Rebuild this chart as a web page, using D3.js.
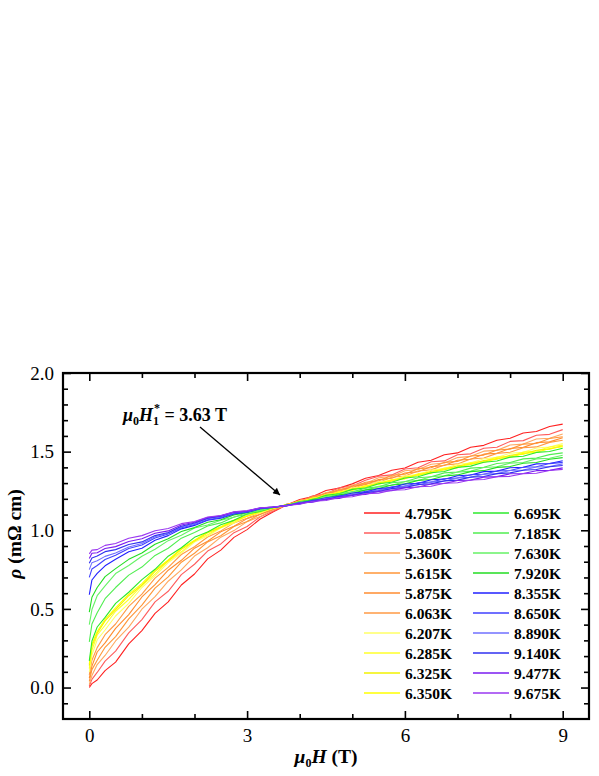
<!DOCTYPE html>
<html><head><meta charset="utf-8">
<script src="https://cdn.jsdelivr.net/npm/d3@7"></script>
<style>
html,body{margin:0;padding:0;background:#fff;}
svg{display:block;font-family:"Liberation Serif","Times New Roman",serif;}
</style></head>
<body>
<svg id="chart" width="599" height="776"></svg>
<script>
// ---------- DATA ----------
const fieldH = [0,0.05,0.15,0.3,0.5,0.75,1,1.25,1.5,1.75,2,2.25,2.5,2.75,3,3.25,3.5,3.75,4,4.25,4.5,4.75,5,5.25,5.5,5.75,6,6.25,6.5,6.75,7,7.25,7.5,7.75,8,8.25,8.5,8.75,9];

const temperatures = ["4.795K","5.085K","5.360K","5.615K","5.875K","6.063K","6.207K","6.285K","6.325K","6.350K",
                      "6.695K","7.185K","7.630K","7.920K","8.355K","8.650K","8.890K","9.140K","9.477K","9.675K"];
const seriesColors = ["#ff2020","#ff5c5c","#ffa860","#ff9638","#ff8c30","#ff9a44","#ffff66","#ffff2a","#f2f200","#ffff00",
                      "#2cea2c","#50ee50","#66f266","#22dd22","#2020ff","#4040ff","#7070ff","#3030f0","#7a1cf0","#9a38f0"];

const rho_4795 = [0.000,0.025,0.048,0.108,0.162,0.278,0.362,0.472,0.545,0.652,0.722,0.818,0.874,0.955,1.004,1.072,1.118,1.160,1.196,1.214,1.253,1.268,1.295,1.331,1.348,1.382,1.396,1.432,1.445,1.480,1.492,1.528,1.540,1.572,1.585,1.618,1.628,1.660,1.675];
const rho_5085 = [0.010,0.052,0.096,0.168,0.232,0.348,0.432,0.545,0.612,0.718,0.784,0.868,0.913,0.985,1.024,1.086,1.122,1.166,1.183,1.220,1.232,1.270,1.281,1.318,1.344,1.352,1.390,1.398,1.436,1.441,1.480,1.486,1.522,1.528,1.565,1.570,1.604,1.610,1.640];
const rho_5360 = [0.020,0.076,0.146,0.204,0.296,0.384,0.498,0.578,0.676,0.748,0.836,0.889,0.956,0.998,1.055,1.088,1.132,1.158,1.190,1.204,1.240,1.252,1.288,1.298,1.334,1.342,1.378,1.386,1.420,1.428,1.462,1.470,1.503,1.508,1.542,1.548,1.580,1.585,1.612];
const rho_5615 = [0.040,0.114,0.174,0.256,0.324,0.437,0.524,0.632,0.704,0.797,0.854,0.926,0.965,1.024,1.056,1.103,1.130,1.165,1.180,1.214,1.226,1.260,1.270,1.305,1.314,1.350,1.356,1.392,1.398,1.432,1.438,1.472,1.478,1.510,1.516,1.548,1.552,1.584,1.595];
const rho_5875 = [0.060,0.136,0.226,0.284,0.376,0.464,0.576,0.654,0.746,0.809,0.886,0.930,0.990,1.026,1.074,1.101,1.138,1.158,1.189,1.202,1.235,1.246,1.280,1.290,1.322,1.331,1.364,1.372,1.405,1.412,1.445,1.452,1.484,1.490,1.520,1.527,1.557,1.562,1.588];
const rho_6063 = [0.080,0.174,0.254,0.336,0.404,0.516,0.594,0.696,0.764,0.846,0.895,0.957,0.996,1.047,1.076,1.114,1.135,1.164,1.178,1.210,1.221,1.254,1.263,1.296,1.304,1.337,1.345,1.377,1.384,1.415,1.422,1.453,1.460,1.489,1.496,1.525,1.530,1.559,1.572];
const rho_6207 = [0.100,0.206,0.304,0.366,0.455,0.535,0.636,0.710,0.795,0.855,0.925,0.963,1.015,1.046,1.089,1.110,1.141,1.157,1.186,1.198,1.228,1.239,1.269,1.279,1.308,1.317,1.347,1.355,1.383,1.392,1.420,1.428,1.455,1.463,1.490,1.496,1.523,1.529,1.552];
const rho_6285 = [0.120,0.236,0.334,0.396,0.485,0.560,0.650,0.721,0.805,0.863,0.934,0.971,1.019,1.051,1.094,1.114,1.142,1.163,1.177,1.205,1.217,1.246,1.256,1.285,1.294,1.323,1.331,1.360,1.368,1.396,1.404,1.431,1.438,1.465,1.471,1.497,1.504,1.529,1.542];
const rho_6325 = [0.140,0.264,0.346,0.424,0.496,0.584,0.651,0.739,0.806,0.879,0.931,0.984,1.017,1.061,1.089,1.121,1.140,1.158,1.184,1.197,1.225,1.236,1.264,1.274,1.302,1.312,1.339,1.348,1.375,1.384,1.410,1.418,1.444,1.452,1.477,1.484,1.509,1.516,1.537];
const rho_6350 = [0.150,0.274,0.356,0.434,0.506,0.594,0.661,0.746,0.811,0.884,0.936,0.989,1.022,1.065,1.092,1.123,1.141,1.162,1.176,1.204,1.215,1.243,1.253,1.282,1.291,1.319,1.327,1.355,1.362,1.390,1.397,1.424,1.431,1.457,1.463,1.489,1.495,1.520,1.532];
const rho_6695 = [0.170,0.296,0.385,0.446,0.535,0.606,0.686,0.752,0.835,0.889,0.955,0.989,1.035,1.063,1.104,1.120,1.145,1.157,1.183,1.194,1.222,1.232,1.260,1.269,1.296,1.305,1.332,1.340,1.366,1.374,1.400,1.408,1.433,1.440,1.465,1.471,1.495,1.501,1.522];
const rho_7185 = [0.290,0.404,0.476,0.565,0.636,0.715,0.766,0.840,0.886,0.950,0.986,1.027,1.047,1.084,1.102,1.129,1.143,1.161,1.174,1.199,1.208,1.234,1.243,1.268,1.276,1.302,1.309,1.334,1.340,1.365,1.371,1.395,1.401,1.425,1.431,1.454,1.459,1.481,1.492];
const rho_7630 = [0.400,0.496,0.584,0.646,0.725,0.776,0.835,0.879,0.934,0.968,1.014,1.033,1.064,1.083,1.113,1.125,1.147,1.156,1.180,1.189,1.214,1.222,1.247,1.254,1.279,1.286,1.310,1.317,1.341,1.347,1.370,1.376,1.399,1.404,1.427,1.431,1.454,1.458,1.477];
const rho_7920 = [0.480,0.574,0.636,0.705,0.756,0.815,0.856,0.911,0.946,0.992,1.017,1.051,1.067,1.098,1.112,1.135,1.145,1.160,1.171,1.195,1.203,1.226,1.234,1.257,1.265,1.288,1.295,1.317,1.323,1.345,1.352,1.373,1.379,1.400,1.405,1.426,1.431,1.452,1.462];
const rho_8355 = [0.590,0.684,0.726,0.774,0.816,0.864,0.886,0.936,0.966,1.009,1.031,1.064,1.077,1.104,1.115,1.137,1.146,1.156,1.177,1.184,1.207,1.214,1.237,1.243,1.266,1.271,1.294,1.298,1.321,1.325,1.347,1.351,1.373,1.376,1.398,1.401,1.422,1.425,1.442];
const rho_8650 = [0.700,0.754,0.776,0.814,0.841,0.884,0.906,0.951,0.976,1.016,1.037,1.067,1.082,1.107,1.117,1.138,1.146,1.159,1.169,1.191,1.198,1.219,1.226,1.248,1.253,1.276,1.280,1.302,1.306,1.328,1.332,1.353,1.356,1.377,1.380,1.401,1.404,1.424,1.432];
const rho_8890 = [0.750,0.794,0.806,0.834,0.856,0.894,0.916,0.959,0.981,1.021,1.041,1.074,1.087,1.112,1.119,1.140,1.147,1.155,1.175,1.181,1.203,1.209,1.231,1.236,1.257,1.262,1.283,1.288,1.308,1.313,1.333,1.337,1.357,1.360,1.380,1.383,1.402,1.405,1.422];
const rho_9140 = [0.790,0.824,0.836,0.864,0.877,0.909,0.926,0.966,0.986,1.026,1.046,1.077,1.090,1.114,1.121,1.141,1.147,1.159,1.168,1.188,1.194,1.215,1.221,1.241,1.246,1.266,1.271,1.291,1.295,1.314,1.319,1.338,1.342,1.360,1.365,1.382,1.386,1.404,1.412];
const rho_9477 = [0.820,0.854,0.857,0.884,0.896,0.929,0.946,0.981,0.996,1.034,1.051,1.081,1.092,1.116,1.123,1.142,1.148,1.154,1.173,1.178,1.199,1.203,1.224,1.228,1.248,1.252,1.271,1.275,1.294,1.297,1.316,1.319,1.338,1.341,1.359,1.361,1.379,1.381,1.397];
const rho_9675 = [0.850,0.874,0.877,0.904,0.916,0.949,0.966,0.997,1.011,1.042,1.056,1.084,1.094,1.117,1.125,1.143,1.148,1.158,1.165,1.185,1.189,1.209,1.213,1.232,1.236,1.255,1.258,1.277,1.280,1.299,1.302,1.320,1.323,1.341,1.343,1.360,1.363,1.380,1.387];

const xMajorTicks = [0,3,6,9];
const xMinorTicks = [1,2,4,5,7,8];
const yMajorTicks = [0.0,0.5,1.0,1.5,2.0];
const yMinorTicks = [-0.1,0.1,0.2,0.3,0.4,0.6,0.7,0.8,0.9,1.1,1.2,1.3,1.4,1.6,1.7,1.8,1.9];

const allRho = [rho_4795,rho_5085,rho_5360,rho_5615,rho_5875,rho_6063,rho_6207,rho_6285,rho_6325,rho_6350,
                rho_6695,rho_7185,rho_7630,rho_7920,rho_8355,rho_8650,rho_8890,rho_9140,rho_9477,rho_9675];
const series = temperatures.map((t,i)=>({label:t,color:seriesColors[i],values:fieldH.map((h,j)=>({h:h,r:allRho[i][j]}))}));

// ---------- LAYOUT ----------
const svg = d3.select("#chart");
const L = 63, T = 373, R = 589, B = 719;
const x = d3.scaleLinear().domain([-0.5,9.5]).range([L,R]);
const y = d3.scaleLinear().domain([-0.2,2.0]).range([B,T]);

// curves
const line = d3.line().x(d=>x(d.h)).y(d=>y(d.r));
const gCurves = svg.append("g");
series.forEach(s=>{
  gCurves.append("path").datum(s.values).attr("d",line)
    .attr("fill","none").attr("stroke",s.color).attr("stroke-width",1.1).attr("stroke-linejoin","round");
});

// axes
const fmtY = d3.format(".1f");
function styleAxis(g){ g.select(".domain").remove(); g.selectAll("line").attr("stroke","#000").attr("stroke-width",1.6); }

svg.append("g").attr("transform",`translate(${L},0)`)
  .call(d3.axisLeft(y).tickValues(yMajorTicks).tickFormat(fmtY).tickSizeInner(-8).tickSizeOuter(0).tickPadding(9))
  .call(styleAxis).call(g=>g.selectAll("text").attr("font-size",19).attr("fill","#000").attr("font-family","Liberation Serif"));
svg.append("g").attr("transform",`translate(${L},0)`)
  .call(d3.axisLeft(y).tickValues(yMinorTicks).tickFormat("").tickSizeInner(-5).tickSizeOuter(0)).call(styleAxis);
svg.append("g").attr("transform",`translate(${R},0)`)
  .call(d3.axisRight(y).tickValues(yMajorTicks).tickFormat("").tickSizeInner(-8).tickSizeOuter(0)).call(styleAxis);
svg.append("g").attr("transform",`translate(${R},0)`)
  .call(d3.axisRight(y).tickValues(yMinorTicks).tickFormat("").tickSizeInner(-5).tickSizeOuter(0)).call(styleAxis);

svg.append("g").attr("transform",`translate(0,${B})`)
  .call(d3.axisBottom(x).tickValues(xMajorTicks).tickFormat(d3.format("d")).tickSizeInner(-8).tickSizeOuter(0).tickPadding(10))
  .call(styleAxis).call(g=>g.selectAll("text").attr("font-size",19).attr("fill","#000").attr("font-family","Liberation Serif"));
svg.append("g").attr("transform",`translate(0,${B})`)
  .call(d3.axisBottom(x).tickValues(xMinorTicks).tickFormat("").tickSizeInner(-5).tickSizeOuter(0)).call(styleAxis);
svg.append("g").attr("transform",`translate(0,${T})`)
  .call(d3.axisTop(x).tickValues(xMajorTicks).tickFormat("").tickSizeInner(-8).tickSizeOuter(0)).call(styleAxis);
svg.append("g").attr("transform",`translate(0,${T})`)
  .call(d3.axisTop(x).tickValues(xMinorTicks).tickFormat("").tickSizeInner(-5).tickSizeOuter(0)).call(styleAxis);

// frame
svg.append("rect").attr("x",L).attr("y",T).attr("width",R-L).attr("height",B-T)
  .attr("fill","none").attr("stroke","#000").attr("stroke-width",2.2);

// axis titles
const xt = svg.append("text").attr("x",(L+R)/2).attr("y",763).attr("text-anchor","middle")
  .attr("font-size",19.5).attr("font-weight","bold").attr("fill","#000");
xt.append("tspan").attr("font-style","italic").text("μ");
xt.append("tspan").attr("font-size",12).attr("dy",4).text("0");
xt.append("tspan").attr("font-style","italic").attr("dy",-4).text("H");
xt.append("tspan").text(" (T)");

const yt = svg.append("text").attr("transform","translate(21,534) rotate(-90)").attr("text-anchor","middle")
  .attr("font-size",19.5).attr("font-weight","bold").attr("fill","#000");
yt.append("tspan").attr("font-style","italic").text("ρ");
yt.append("tspan").text(" (mΩ cm)");

// annotation (single text element, 1 subscript with * stacked above)
const an = svg.append("text").attr("x",123).attr("y",421).attr("font-size",18).attr("font-weight","bold").attr("fill","#000");
an.append("tspan").attr("font-style","italic").text("μ");
an.append("tspan").attr("font-size",12).attr("dy",4).text("0");
an.append("tspan").attr("font-style","italic").attr("dy",-4).text("H");
an.append("tspan").attr("font-size",12).attr("dy",4).text("1");
an.append("tspan").attr("font-size",12).attr("dx",-5).attr("dy",-13).text("*");
an.append("tspan").attr("dy",9).text(" = 3.63 T");

svg.append("defs").append("marker").attr("id","ah").attr("viewBox","0 0 10 10").attr("refX",10).attr("refY",5)
  .attr("markerWidth",10).attr("markerHeight",7).attr("markerUnits","userSpaceOnUse").attr("orient","auto")
  .append("path").attr("d","M0,0 L10,5 L0,10 Z").attr("fill","#000");
svg.append("line").attr("x1",200).attr("y1",427).attr("x2",280).attr("y2",495)
  .attr("stroke","#000").attr("stroke-width",1.3).attr("marker-end","url(#ah)");

// legend
const lg = svg.append("g");
series.forEach((s,i)=>{
  const col = Math.floor(i/10), row = i%10;
  const lx = col===0 ? 364 : 473;
  const ly = 513 + row*20;
  lg.append("line").attr("x1",lx).attr("x2",lx+36).attr("y1",ly).attr("y2",ly)
    .attr("stroke",s.color).attr("stroke-width",1.5);
  lg.append("text").attr("x",lx+41).attr("y",ly+5.5).attr("font-size",15.5).attr("font-weight","bold")
    .attr("fill","#000").text(s.label);
});
</script>
</body></html>
